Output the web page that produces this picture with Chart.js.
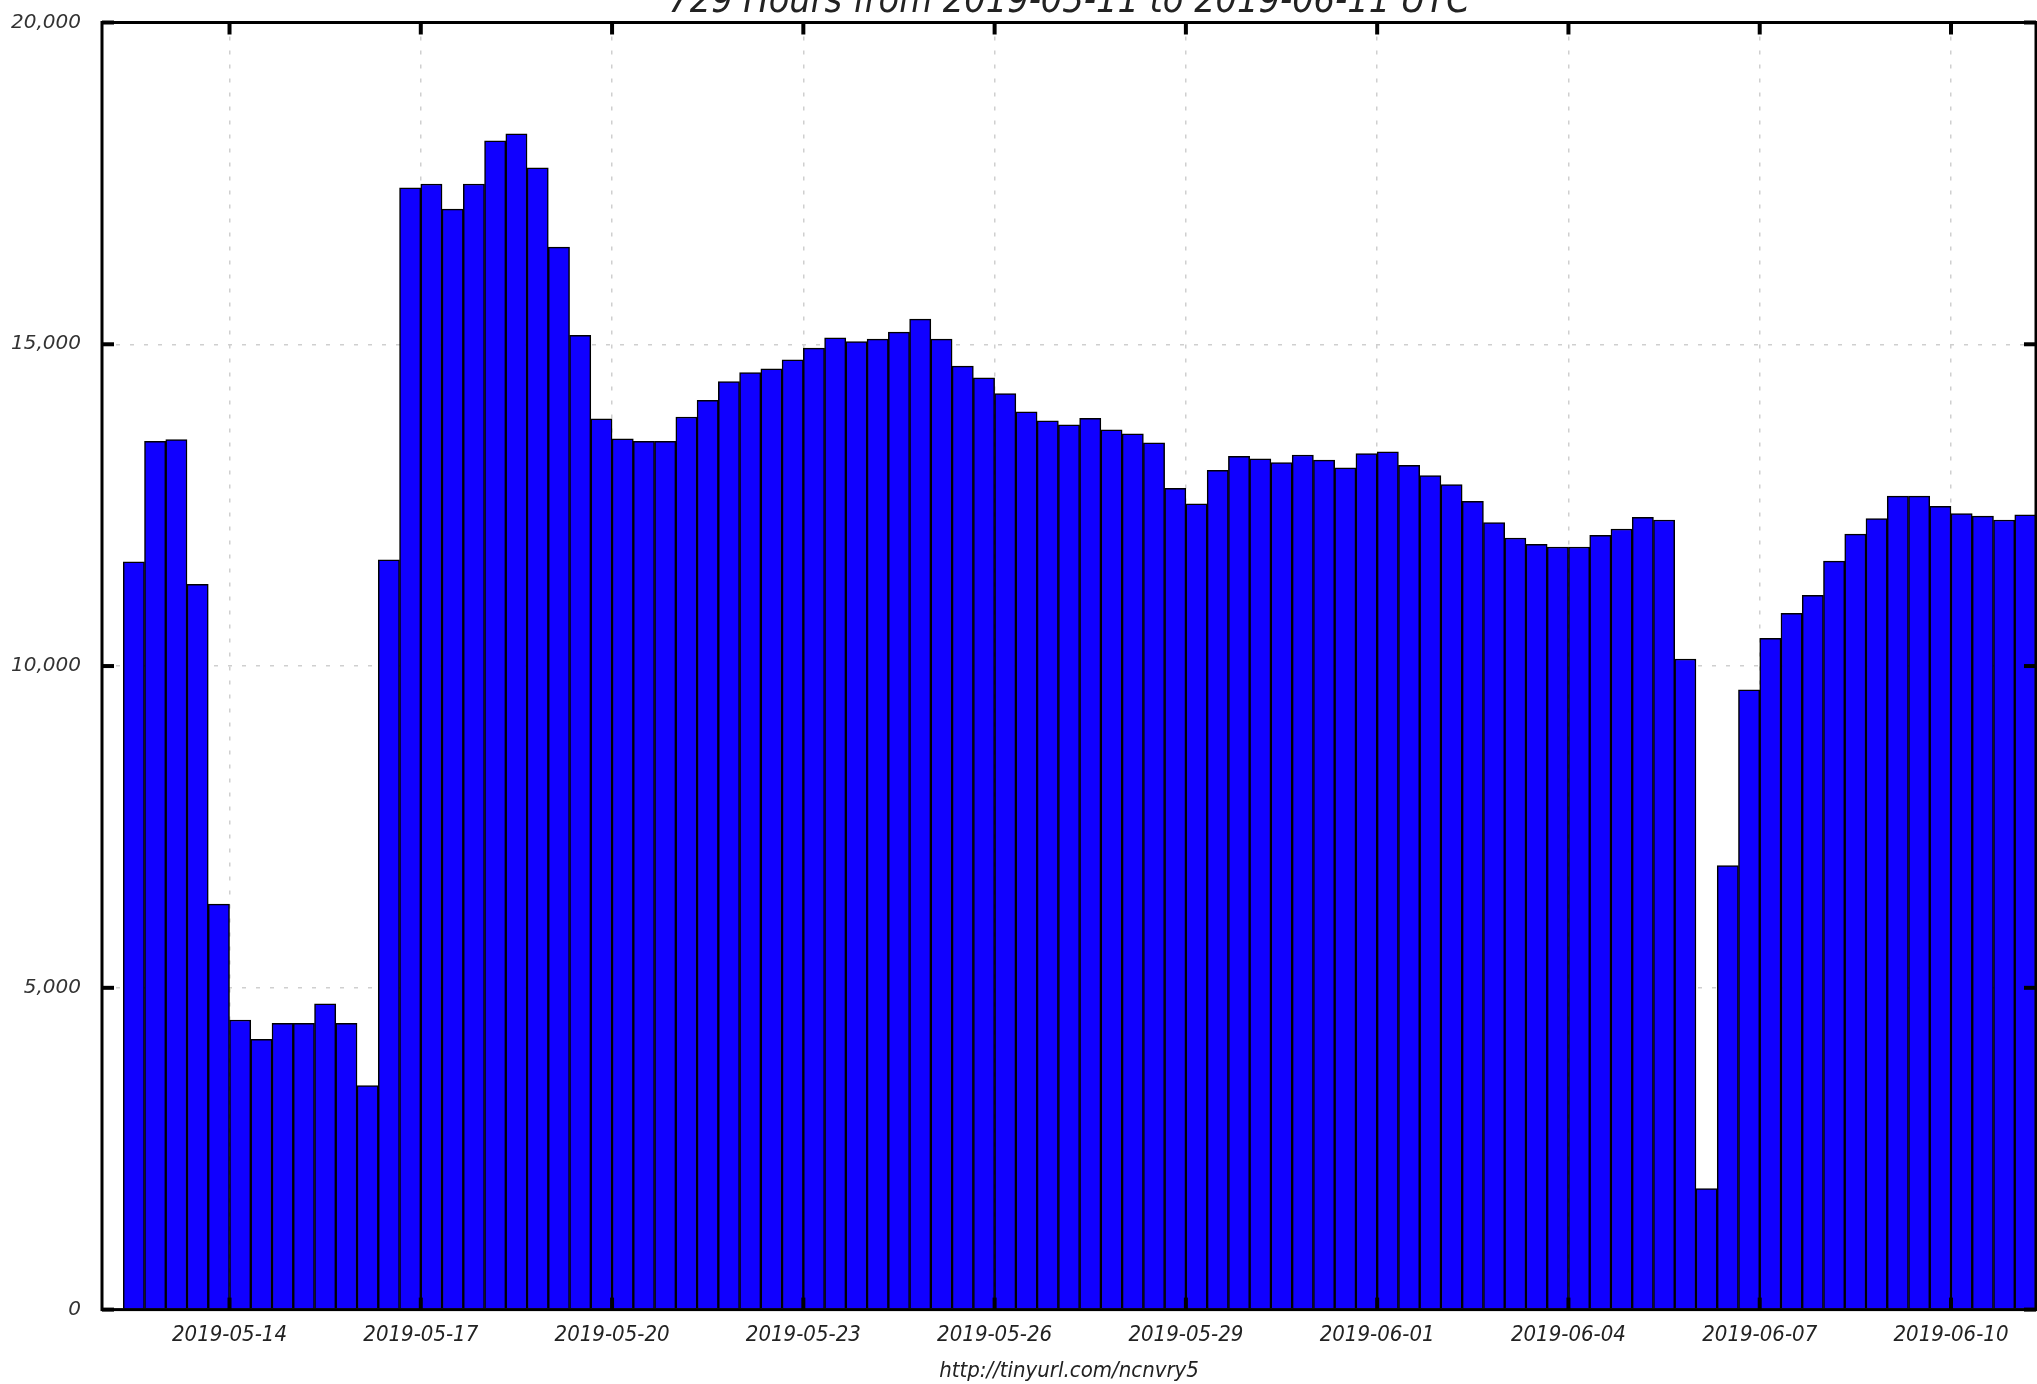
<!DOCTYPE html>
<html>
<head>
<meta charset="utf-8">
<script src="https://cdn.jsdelivr.net/npm/chart.js@4.4.1/dist/chart.umd.min.js"></script>
<style>
  html, body { margin: 0; padding: 0; background: #fff; overflow: hidden; }
  #wrap { position: relative; width: 2037px; height: 1384px; overflow: hidden; }
  #chart { position: absolute; left: 0; top: -30px; }
</style>
</head>
<body>
<div id="wrap"><canvas id="chart" width="2037" height="1414"></canvas></div>
<script>
const titleText = '729 Hours from 2019-05-11 to 2019-06-11 UTC';
const xTitle = 'http://tinyurl.com/ncnvry5';

// hours are counted from 2019-05-11 00:00 UTC
const baseDate = Date.UTC(2019, 4, 11);
const firstBinHour = 32;
const binHours = 8;
const axisStartHour = 24;
const axisEndHour = 752;

const tickDays = ['2019-05-14', '2019-05-17', '2019-05-20', '2019-05-23', '2019-05-26',
	'2019-05-29', '2019-06-01', '2019-06-04', '2019-06-07', '2019-06-10'];

const yTicks = [0, 5000, 10000, 15000, 20000];

// one value per 8-hour bin
const counts = [
	11620, 13490, 13520, 11270, 6300, 4500, 4200, 4450, 4450, 4750,
	4450, 3480, 11650, 17430, 17490, 17100, 17490, 18160, 18270, 17740,
	16510, 15140, 13840, 13530, 13490, 13490, 13870, 14130, 14420, 14560,
	14620, 14760, 14940, 15100, 15040, 15080, 15190, 15390, 15080, 14660,
	14480, 14235, 13950, 13810, 13750, 13850, 13670, 13610, 13470, 12760,
	12520, 13040, 13260, 13220, 13160, 13280, 13200, 13080, 13300, 13330,
	13120, 12960, 12820, 12560, 12230, 11990, 11890, 11850, 11850, 12030,
	12130, 12310, 12270, 10110, 1880, 6900, 9630, 10430, 10820, 11100,
	11630, 12050, 12290, 12640, 12640, 12480, 12370, 12330, 12270, 12350,
];

const tickHours = tickDays.map((d) => (Date.parse(d + 'T00:00:00Z') - baseDate) / 3600000);
const points = counts.map((v, i) => ({ x: firstBinHour + i * binHours + binHours / 2, y: v }));

function hourLabel(h) {
	return new Date(baseDate + h * 3600000).toISOString().slice(0, 10);
}

const labelFont = { family: "'DejaVu Sans Condensed', 'Liberation Sans', sans-serif", size: 22, style: 'italic' };
const yFont = { family: "'DejaVu Sans', sans-serif", size: 20, style: 'italic' };

const frame = {
	id: 'frame',
	afterDatasetsDraw(chart) {
		const { ctx, chartArea: a, scales } = chart;
		const x = scales.x;
		const y = scales.y;
		ctx.save();
		ctx.strokeStyle = '#000';
		ctx.lineWidth = 3;
		ctx.strokeRect(a.left, a.top, a.right - a.left, a.bottom - a.top);
		ctx.lineWidth = 4;
		const line = (x1, y1, x2, y2) => {
			ctx.beginPath();
			ctx.moveTo(x1, y1);
			ctx.lineTo(x2, y2);
			ctx.stroke();
		};
		x.ticks.forEach((t) => {
			const px = x.getPixelForValue(t.value);
			line(px, a.bottom, px, a.bottom - 12);
			line(px, a.top, px, a.top + 12);
		});
		y.ticks.forEach((t) => {
			const py = y.getPixelForValue(t.value);
			line(a.left, py, a.left + 12, py);
			line(a.right, py, a.right - 12, py);
		});
		ctx.restore();
	},
};

const chart = new Chart(document.getElementById('chart'), {
	type: 'bar',
	data: {
		datasets: [
			{
				data: points,
				backgroundColor: '#1000ff',
				borderColor: '#000',
				borderWidth: 1.5,
				barPercentage: 1,
				categoryPercentage: 1,
			},
		],
	},
	options: {
		responsive: false,
		animation: false,
		layout: { padding: { left: 0, right: 1, top: 0, bottom: 2 } },
		plugins: {
			legend: { display: false },
			tooltip: { enabled: false },
			title: {
				display: true,
				fullSize: false,
				text: titleText,
				color: '#222',
				font: { family: "'DejaVu Sans Condensed', 'DejaVu Sans', sans-serif", size: 37.5, style: 'italic', weight: 'normal', lineHeight: 1 },
				padding: { top: 14, bottom: 1 },
			},
		},
		scales: {
			x: {
				type: 'linear',
				min: axisStartHour,
				max: axisEndHour,
				offset: false,
				afterBuildTicks: (s) => {
					s.ticks = tickHours.map((v) => ({ value: v }));
				},
				ticks: {
					callback: (v) => hourLabel(v),
					font: labelFont,
					color: '#222',
					padding: 12,
					maxRotation: 0,
					autoSkip: false,
				},
				grid: { color: '#cfcfcf', lineWidth: 1.5, drawTicks: false, offset: false },
				border: { display: false, dash: [4, 10] },
				title: {
					display: true,
					text: xTitle,
					font: { ...labelFont, lineHeight: 1 },
					color: '#222',
					padding: { top: 0, bottom: 0 },
				},
			},
			y: {
				min: 0,
				max: 20000,
				afterBuildTicks: (s) => {
					s.ticks = yTicks.map((v) => ({ value: v }));
				},
				afterFit: (s) => {
					s.width = 102;
				},
				ticks: {
					callback: (v) => v.toLocaleString('en-US'),
					font: yFont,
					color: '#333',
					padding: 21,
				},
				grid: { color: '#cfcfcf', lineWidth: 1.5, drawTicks: false },
				border: { display: false, dash: [4, 10] },
			},
		},
	},
	plugins: [frame],
});
</script>
</body>
</html>
